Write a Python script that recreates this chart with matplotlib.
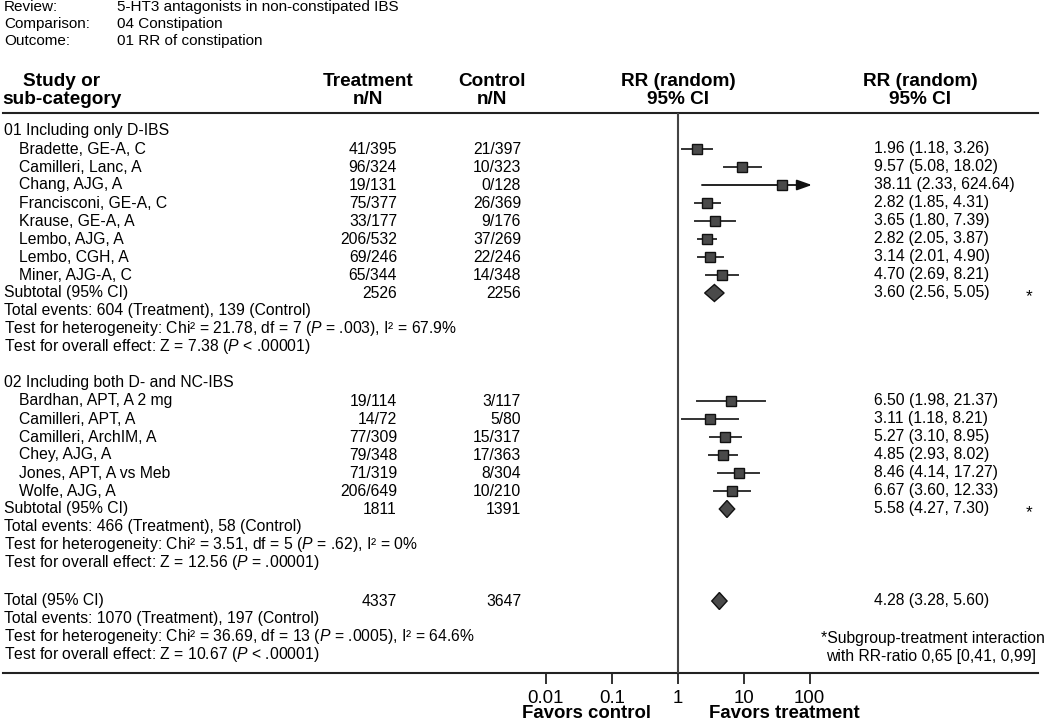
import matplotlib
matplotlib.use("Agg")
import matplotlib.pyplot as plt
from matplotlib.ticker import FixedLocator, FixedFormatter, NullLocator

plt.rcParams['font.family'] = ['Liberation Sans', 'DejaVu Sans']
plt.rcParams['mathtext.fontset'] = 'custom'
plt.rcParams['mathtext.rm'] = 'Liberation Sans'
plt.rcParams['mathtext.it'] = 'Liberation Sans:italic'
plt.rcParams['mathtext.bf'] = 'Liberation Sans:bold'

# ---------------- data ----------------
meta_labels = ["Review:", "Comparison:", "Outcome:"]
meta_values = ["5-HT3 antagonists in non-constipated IBS", "04 Constipation", "01 RR of constipation"]

g1_title = "01 Including only D-IBS"
g1_studies = ["Bradette, GE-A, C", "Camilleri, Lanc, A", "Chang, AJG, A", "Francisconi, GE-A, C",
              "Krause, GE-A, A", "Lembo, AJG, A", "Lembo, CGH, A", "Miner, AJG-A, C"]
g1_treat = ["41/395", "96/324", "19/131", "75/377", "33/177", "206/532", "69/246", "65/344"]
g1_ctrl = ["21/397", "10/323", "0/128", "26/369", "9/176", "37/269", "22/246", "14/348"]
g1_rr = [1.96, 9.57, 38.11, 2.82, 3.65, 2.82, 3.14, 4.70]
g1_lo = [1.18, 5.08, 2.33, 1.85, 1.80, 2.05, 2.01, 2.69]
g1_hi = [3.26, 18.02, 624.64, 4.31, 7.39, 3.87, 4.90, 8.21]
g1_sub_n = ["2526", "2256"]
g1_sub = [3.60, 2.56, 5.05]
g1_notes = ["Total events: 604 (Treatment), 139 (Control)",
            "Test for heterogeneity: Chi\u00b2 = 21.78, df = 7 ($P$ = .003), I\u00b2 = 67.9%",
            "Test for overall effect: Z = 7.38 ($P$ < .00001)"]

g2_title = "02 Including both D- and NC-IBS"
g2_studies = ["Bardhan, APT, A 2 mg", "Camilleri, APT, A", "Camilleri, ArchIM, A", "Chey, AJG, A",
              "Jones, APT, A vs Meb", "Wolfe, AJG, A"]
g2_treat = ["19/114", "14/72", "77/309", "79/348", "71/319", "206/649"]
g2_ctrl = ["3/117", "5/80", "15/317", "17/363", "8/304", "10/210"]
g2_rr = [6.50, 3.11, 5.27, 4.85, 8.46, 6.67]
g2_lo = [1.98, 1.18, 3.10, 2.93, 4.14, 3.60]
g2_hi = [21.37, 8.21, 8.95, 8.02, 17.27, 12.33]
g2_sub_n = ["1811", "1391"]
g2_sub = [5.58, 4.27, 7.30]
g2_notes = ["Total events: 466 (Treatment), 58 (Control)",
            "Test for heterogeneity: Chi\u00b2 = 3.51, df = 5 ($P$ = .62), I\u00b2 = 0%",
            "Test for overall effect: Z = 12.56 ($P$ = .00001)"]

tot_n = ["4337", "3647"]
tot = [4.28, 3.28, 5.60]
tot_notes = ["Total events: 1070 (Treatment), 197 (Control)",
             "Test for heterogeneity: Chi\u00b2 = 36.69, df = 13 ($P$ = .0005), I\u00b2 = 64.6%",
             "Test for overall effect: Z = 10.67 ($P$ < .00001)"]
footnote = ["*Subgroup-treatment interaction", "with RR-ratio 0,65 [0,41, 0,99]"]

tick_vals = [0.01, 0.1, 1, 10, 100]
tick_labels = ["0.01", "0.1", "1", "10", "100"]

# ---------------- layout ----------------
W, H = 1050, 723
fig = plt.figure(figsize=(W / 100, H / 100), dpi=100)
bg = fig.add_axes([0, 0, 1, 1])
bg.set_xlim(0, W)
bg.set_ylim(H, 0)
bg.axis('off')

FS = 11.35
MFS = 11.0
HFS = 13.7
x_name0, x_name1 = 4, 19
x_tr, x_ct = 397, 521
x_ci = 874
x_star = 1029
dy = 18

def txt(x, y, s, **kw):
    kw.setdefault('fontsize', FS)
    kw.setdefault('va', 'center')
    bg.text(x, y, s, **kw)

# meta
for i, (l, v) in enumerate(zip(meta_labels, meta_values)):
    y = 7 + i * 17
    txt(4, y, l, fontsize=MFS)
    txt(117, y, v, fontsize=MFS)

# headers
for y, s in [(81, "Study or"), (99, "sub-category")]:
    txt(62, y, s, ha='center', fontsize=HFS, fontweight='bold')
for y, s in [(81, "Treatment"), (99, "n/N")]:
    txt(368, y, s, ha='center', fontsize=HFS, fontweight='bold')
for y, s in [(81, "Control"), (99, "n/N")]:
    txt(492, y, s, ha='center', fontsize=HFS, fontweight='bold')
for y, s in [(81, "RR (random)"), (99, "95% CI")]:
    txt(678, y, s, ha='center', fontsize=HFS, fontweight='bold')
    txt(920, y, s, ha='center', fontsize=HFS, fontweight='bold')

bg.plot([3, 1038], [113, 113], color='#222222', lw=1.5)
bg.plot([3, 1038], [673, 673], color='#222222', lw=1.5)

# forest axes: pixel y coords
x0px, x1px = 545.7, 809.7
ytop, ybot = 113, 673
ax = fig.add_axes([x0px / W, (H - ybot) / H, (x1px - x0px) / W, (ybot - ytop) / H])
ax.set_xscale('log')
ax.set_xlim(0.01, 100)
ax.set_ylim(ybot, ytop)
for sp in ax.spines.values():
    sp.set_visible(False)
ax.patch.set_alpha(0)
ax.xaxis.set_major_locator(FixedLocator(tick_vals))
ax.xaxis.set_major_formatter(FixedFormatter(tick_labels))
ax.xaxis.set_minor_locator(NullLocator())
ax.yaxis.set_major_locator(NullLocator())
ax.tick_params(axis='x', direction='out', length=8, width=1.3, color='#222222',
               labelsize=13.4, pad=4)
ax.axvline(1, color='#444444', lw=1.5)

LC = '#333333'
SQ = '#4a4a4a'

def study_row(y, name, tr, ct, rr, lo, hi):
    txt(x_name1, y, name)
    txt(x_tr, y, tr, ha='right')
    txt(x_ct, y, ct, ha='right')
    txt(x_ci, y, f"{rr:.2f} ({lo:.2f}, {hi:.2f})")
    if hi > 100:
        ax.annotate('', xy=(108, y), xytext=(lo, y), annotation_clip=False,
                    arrowprops=dict(arrowstyle='-|>,head_length=0.9,head_width=0.32',
                                    color='#111111', lw=1.3, shrinkA=0, shrinkB=0))
    else:
        ax.plot([lo, hi], [y, y], color=LC, lw=1.4, clip_on=False)
    ax.plot([rr], [y], marker='s', ms=7.2, mfc=SQ, mec='#111111', mew=1.0,
            linestyle='none', clip_on=False, zorder=3)

def diamond(y, vals):
    rr, lo, hi = vals
    h = 8.5
    ax.fill([lo, rr, hi, rr], [y, y - h, y, y + h], facecolor=SQ, edgecolor='#111111',
            lw=1.0, clip_on=False, zorder=3)

def group(y0, title, studies, treat, ctrl, rr, lo, hi, sub_n, sub, notes):
    txt(x_name0, y0, title)
    y = y0
    for i in range(len(studies)):
        y = y0 + (i + 1) * dy
        study_row(y, studies[i], treat[i], ctrl[i], rr[i], lo[i], hi[i])
    y += dy
    txt(x_name0, y, "Subtotal (95% CI)")
    txt(x_tr, y, sub_n[0], ha='right')
    txt(x_ct, y, sub_n[1], ha='right')
    txt(x_ci, y, f"{sub[0]:.2f} ({sub[1]:.2f}, {sub[2]:.2f})")
    txt(x_star, y + 4, "*", ha='center', fontsize=FS + 1)
    diamond(y, sub)
    for j, s in enumerate(notes):
        txt(x_name0, y + (j + 1) * dy, s)

group(131, g1_title, g1_studies, g1_treat, g1_ctrl, g1_rr, g1_lo, g1_hi, g1_sub_n, g1_sub, g1_notes)
group(383, g2_title, g2_studies, g2_treat, g2_ctrl, g2_rr, g2_lo, g2_hi, g2_sub_n, g2_sub, g2_notes)

yt = 601
txt(x_name0, yt, "Total (95% CI)")
txt(x_tr, yt, tot_n[0], ha='right')
txt(x_ct, yt, tot_n[1], ha='right')
txt(x_ci, yt, f"{tot[0]:.2f} ({tot[1]:.2f}, {tot[2]:.2f})")
diamond(yt, tot)
for j, s in enumerate(tot_notes):
    txt(x_name0, yt + (j + 1) * dy, s)

txt(933, 638, footnote[0], ha='center')
txt(931, 656, footnote[1], ha='center')

txt(587, 714, "Favors control", ha='center', fontsize=13.4, fontweight='bold')
txt(784, 714, "Favors treatment", ha='center', fontsize=13.4, fontweight='bold')

fig.savefig("out.png", dpi=100)
